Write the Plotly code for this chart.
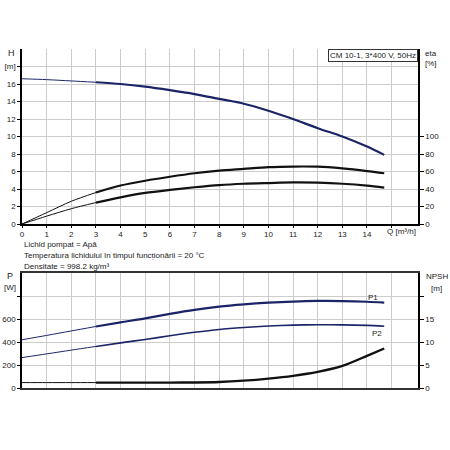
import plotly.graph_objects as go
import numpy as np

Q = [0, 1, 2, 3, 4, 5, 6, 7, 8, 9, 10, 11, 12, 13, 14, 14.7]
H = [16.6, 16.5, 16.35, 16.2, 16.0, 15.7, 15.3, 14.85, 14.3, 13.75, 12.95, 12.0, 10.95, 10.0, 8.85, 7.9]
ETA_PUMP = [0, 13, 26, 36, 44, 49.5, 54, 58, 61, 63, 65, 65.7, 65.5, 63.5, 60.5, 58]
ETA_TOTAL = [0, 9, 17.5, 24.5, 30.5, 35.5, 39, 42, 44.5, 46, 46.8, 47.5, 47.2, 46, 43.8, 41.5]
P1 = [420, 458, 497, 536, 572, 606, 645, 680, 708, 728, 743, 753, 758, 757, 751, 743]
P2 = [265, 297, 330, 362, 393, 423, 455, 485, 510, 527, 540, 548, 551, 550, 545, 538]
NPSH = [1.18, 1.18, 1.18, 1.18, 1.18, 1.18, 1.18, 1.2, 1.3, 1.6, 2.05, 2.65, 3.5, 4.8, 7.0, 8.6]

Q_LABELS = [str(i) for i in range(15)] + [""]
TITLE = "CM 10-1, 3*400 V, 50Hz"
INFO = ["Lichid pompat = Apă",
        "Temperatura lichidului în timpul funcționării = 20 °C",
        "Densitate = 998.2 kg/m³"]

FONT = "Liberation Sans, Arial, sans-serif"
NAVY = "#1b2466"
GRID = "#cccccc"

q = np.array(Q)
thin = q <= 3
thick = q >= 3

fig = go.Figure()

def add_split(y, color, xa, ya, w_thin=1, w_thick=2.2):
    y = np.array(y)
    fig.add_trace(go.Scatter(x=q[thin], y=y[thin], mode="lines", xaxis=xa, yaxis=ya,
                             line=dict(color=color, width=w_thin, shape="spline", smoothing=0.8),
                             showlegend=False, hoverinfo="skip"))
    fig.add_trace(go.Scatter(x=q[thick], y=y[thick], mode="lines", xaxis=xa, yaxis=ya,
                             line=dict(color=color, width=w_thick, shape="spline", smoothing=0.8),
                             showlegend=False, hoverinfo="skip"))

add_split(H, NAVY, "x", "y")
add_split(ETA_PUMP, "#111111", "x", "y2")
add_split(ETA_TOTAL, "#111111", "x", "y2")
add_split(P1, NAVY, "x2", "y3")
add_split(P2, NAVY, "x2", "y3", w_thick=1.6)
add_split(NPSH, "#111111", "x2", "y4", w_thick=2.4)

tf = dict(family=FONT, size=8, color="#222222")

fig.update_layout(
    width=450, height=450,
    margin=dict(l=22, r=32, t=49, b=62, autoexpand=False),
    paper_bgcolor="white", plot_bgcolor="white",
    font=tf,
    showlegend=False,
    xaxis=dict(domain=[0, 1], range=[0, 16.07], tickvals=list(range(16)), ticktext=Q_LABELS,
               showgrid=True, gridcolor=GRID, gridwidth=1, showline=True, linecolor="black", linewidth=1.5,
               ticks="outside", ticklen=2, tickcolor="black", tickfont=tf, anchor="y", zeroline=False,
               automargin=False),
    yaxis=dict(domain=[0.4837, 1.0], range=[0, 20], tickvals=list(range(0, 19, 2)),
               ticktext=[str(v) for v in range(0, 17, 2)] + ["[m]"],
               showgrid=True, gridcolor=GRID, showline=True, linecolor="black", linewidth=1.5,
               ticks="outside", ticklen=3, tickcolor="black", tickfont=tf, anchor="x", zeroline=False,
               automargin=False),
    yaxis2=dict(overlaying="y", side="right", range=[0, 200], tickvals=list(range(0, 101, 20)),
                showgrid=False, showline=True, linecolor="black", linewidth=1.5,
                ticks="outside", ticklen=4, tickcolor="black", tickfont=tf, anchor="x", zeroline=False,
                automargin=False),
    xaxis2=dict(domain=[0, 1], range=[0, 16.07], tickvals=list(range(16)), showticklabels=False,
                showgrid=True, gridcolor=GRID, showline=True, linecolor="#333333", linewidth=1.5, mirror=True,
                ticks="", anchor="y3", zeroline=False, automargin=False),
    yaxis3=dict(domain=[0, 0.3387], range=[0, 1000], tickvals=[0, 200, 400, 600, 800],
                ticktext=["0", "200", "400", "600", ""],
                showgrid=True, gridcolor=GRID, showline=True, linecolor="black", linewidth=1.5,
                ticks="outside", ticklen=3, tickcolor="black", tickfont=tf, anchor="x2", zeroline=False,
                automargin=False),
    yaxis4=dict(overlaying="y3", side="right", range=[0, 25], tickvals=[0, 5, 10, 15, 20],
                ticktext=["0", "5", "10", "15", ""],
                showgrid=False, showline=True, linecolor="black", linewidth=1.5,
                ticks="outside", ticklen=4, tickcolor="black", tickfont=tf, anchor="x2", zeroline=False,
                automargin=False),
)

def ann(text, x, y, xanchor="center", yanchor="middle", size=8, **kw):
    fig.add_annotation(text=text, x=x, y=y, xref="paper", yref="paper", xanchor=xanchor, yanchor=yanchor,
                       showarrow=False, font=dict(family=FONT, size=size, color="#222222"), **kw)

# screen pixel -> paper helpers (plot area spans x 22..418, y 49..388 on screen)
def px(xp):
    return (xp - 22) / (418 - 22)

def py(yp):
    return (388 - yp) / (388 - 49)

ann("H", px(11), py(53), size=9)
ann("eta", px(431), py(54))
ann("[%]", px(431), py(64))
ann("Q [m³/h]", px(401), py(232))
ann(TITLE, px(418), py(55), xanchor="right", bordercolor="#333333", borderwidth=1, borderpad=1,
    bgcolor="white")
for i, t in enumerate(INFO):
    ann(t, px(22), py(245 + i * 10.5), xanchor="left")
ann("P", px(10), py(276), size=9)
ann("[W]", px(10), py(287))
ann("NPSH", px(437), py(276))
ann("[m]", px(436), py(288))
ann("P1", px(373), py(297), size=8)
ann("P2", px(377), py(333), size=8)

# remove the page's default body margin so the figure sits at the window's corner
fig.write_html("out.html", config={"displayModeBar": False},
               post_script="document.body.style.margin='0px';")
